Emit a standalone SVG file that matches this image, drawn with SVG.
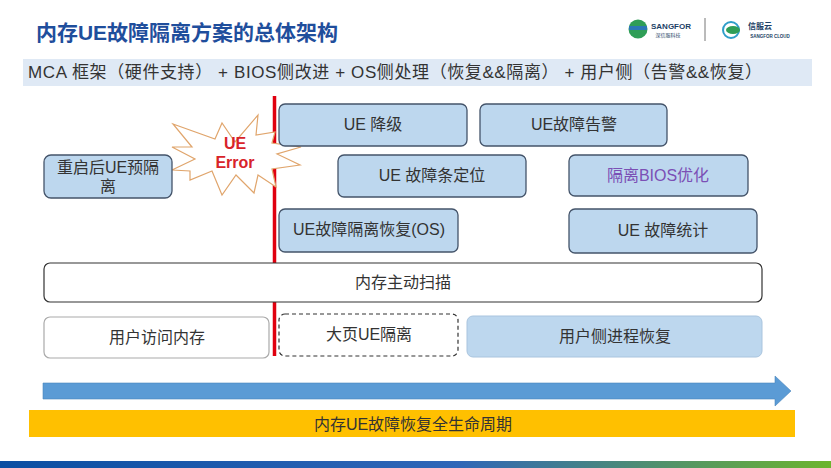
<svg xmlns="http://www.w3.org/2000/svg" width="831" height="468" viewBox="0 0 831 468">
<style>
text{font-family:"Liberation Sans","Noto Sans CJK SC",sans-serif;fill:#333;font-size:16px;text-anchor:middle}
.b{fill:#bdd7ee;stroke:#44546a;stroke-width:1.3}
.w{fill:#fff;stroke:#555;stroke-width:1.2}
</style>
<defs><linearGradient id="g"><stop offset="0" stop-color="#0b4ea2"/><stop offset=".55" stop-color="#2f66b8"/><stop offset="1" stop-color="#6cb52d"/></linearGradient></defs>
<rect width="831" height="468" fill="#fff"/>
<text x="187" y="40" style="font-size:21px;font-weight:bold;fill:#1f4e9c">内存UE故障隔离方案的总体架构</text>
<g id="logo">
<circle cx="638" cy="29" r="9.5" fill="#2f9e57"/>
<rect x="629" y="26" width="18" height="4" fill="#2b78b5"/>
<text x="671" y="29" style="font-size:8px;font-weight:bold;fill:#1c3f66">SANGFOR</text>
<text x="668" y="37" style="font-size:5px;fill:#1c3f66">深信服科技</text>
<line x1="705" y1="18" x2="705" y2="41" stroke="#777" stroke-width="1"/>
<circle cx="731" cy="30" r="8" fill="none" stroke="#2f9ec9" stroke-width="2"/>
<ellipse cx="733" cy="30" rx="7" ry="4" fill="#2f9e57"/>
<text x="760" y="29" style="font-size:8px;font-weight:bold;fill:#1c3f66">信服云</text>
<text x="770" y="38" style="font-size:4.5px;font-weight:bold;fill:#1c3f66">SANGFOR CLOUD</text>
</g>
<g id="subtitle"><rect x="23" y="59" width="789" height="27" fill="#dfe9f5"/>
<text x="395" y="78" style="font-size:17px" textLength="734">MCA 框架（硬件支持） + BIOS侧改进 + OS侧处理（恢复&amp;&amp;隔离） + 用户侧（告警&amp;&amp;恢复）</text></g>
<g id="connectors"><line x1="274.500" y1="96" x2="274.500" y2="356" stroke="#e0000f" stroke-width="3.500"/></g>
<g id="burst"><polygon points="173,124 215,139 222,123 235,142 258,115 256,135 275,132 272,143 301,147 277,154 300,165 272,169 276,187 258,175 254,193 236,175 222,195 212,171 190,180 190,171 172,170 195,159 172,147 192,147" fill="#fff" stroke="#e0a56c" stroke-width="1.200"/>
<text x="235" y="149" style="font-weight:bold;fill:#d8232a">UE</text><text x="235" y="168" style="font-weight:bold;fill:#d8232a">Error</text></g>
<g id="n1"><rect class="b" x="279" y="104" width="188" height="42" rx="6"/><text x="373" y="130">UE 降级</text></g>
<g id="n2"><rect class="b" x="480" y="104" width="187" height="42" rx="6"/><text x="574" y="130">UE故障告警</text></g>
<g id="n3"><rect class="b" x="44" y="155" width="128" height="43" rx="7"/><text x="108" y="173">重启后UE预隔</text><text x="108" y="192">离</text></g>
<g id="n4"><rect class="b" x="338" y="155" width="188" height="42" rx="6"/><text x="432" y="181">UE 故障条定位</text></g>
<g id="n5"><rect class="b" x="569" y="155" width="179" height="41" rx="6"/><text x="658" y="181" style="fill:#7b4fb5">隔离BIOS优化</text></g>
<g id="n6"><rect class="b" x="279" y="209" width="179" height="43" rx="6"/><text x="369" y="235">UE故障隔离恢复(OS)</text></g>
<g id="n7"><rect class="b" x="569" y="209" width="188" height="44" rx="6"/><text x="663" y="236">UE 故障统计</text></g>
<g id="n8"><rect class="w" x="44" y="263" width="718" height="39" rx="6" style="stroke:#333"/><text x="403" y="288">内存主动扫描</text></g>
<g id="n9"><rect class="w" x="44" y="317" width="225" height="41" rx="6" style="stroke:#aaa"/><text x="157" y="343">用户访问内存</text></g>
<g id="n10"><rect class="w" x="279" y="314" width="179" height="42" rx="6" stroke-dasharray="4 3" style="stroke:#333"/><text x="369" y="340">大页UE隔离</text></g>
<g id="n11"><rect x="467" y="316" width="295" height="41" rx="6" fill="#bdd7ee" stroke="#a9c4de"/><text x="615" y="342">用户侧进程恢复</text></g>
<g id="arrow"><polygon points="43,383 775,383 775,376 791,391 775,406 775,399 43,399" fill="#5b9bd5" stroke="#4a86bd" stroke-width=".6"/></g>
<g id="band"><rect x="29" y="410" width="766" height="27" fill="#ffc000"/><text x="413" y="430">内存UE故障恢复全生命周期</text></g>
<rect id="footer" y="461" width="831" height="7" fill="url(#g)"/>
</svg>
